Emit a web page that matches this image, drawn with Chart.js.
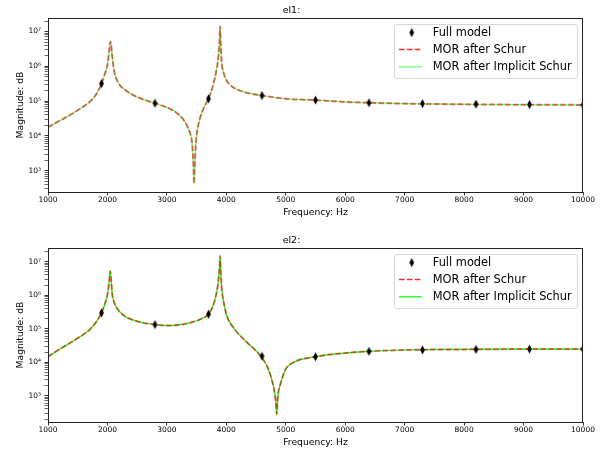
<!DOCTYPE html>
<html>
<head>
<meta charset="utf-8">
<script src="https://cdn.jsdelivr.net/npm/chart.js@4.4.1/dist/chart.umd.min.js"></script>
<style>
  body { margin: 0; background: #fff; }
  canvas { display: block; }
</style>
</head>
<body>
<canvas id="el1" width="611" height="225"></canvas>
<canvas id="el2" width="611" height="225"></canvas>
<script>
// Data (Hz, magnitude)
var fullFreq = [1900, 2800, 3700, 4600, 5500, 6400, 7300, 8200, 9100, 10000];
var full1 = [3.2e5, 8.7e4, 1.17e5, 1.45e5, 1.07e5, 9.0e4, 8.5e4, 8.2e4, 8.0e4, 7.8e4];
var full2 = [2.95e5, 1.32e5, 2.7e5, 1.5e4, 1.45e4, 2.1e4, 2.3e4, 2.4e4, 2.45e4, 2.45e4];

var freq1 = [1000, 1200, 1400, 1600, 1700, 1800, 1900, 1950, 2000, 2030, 2048, 2060, 2080, 2100, 2130,
  2200, 2300, 2400, 2600, 2800, 3000, 3150, 3250, 3330, 3390, 3420, 3440, 3450, 3457, 3465, 3475,
  3490, 3530, 3610, 3700, 3780, 3850, 3870, 3885, 3895, 3905, 3915, 3925, 3950, 3980, 4090, 4290,
  4600, 5000, 5500, 6000, 6500, 7000, 8000, 9000, 10000];
var mor1 = [1.78e4, 2.75e4, 4.27e4, 7.1e4, 9.5e4, 1.48e5, 3.16e5, 5.6e5, 1.12e6, 2.8e6, 5.2e6, 4.4e6, 2.0e6, 1.0e6, 5.6e5,
  3.0e5, 2.1e5, 1.6e5, 1.12e5, 8.7e4, 6.6e4, 4.8e4, 3.4e4, 2.1e4, 1.2e4, 7.1e3, 2.5e3, 1.0e3, 420, 1.0e3, 2.5e3,
  7.1e3, 2.1e4, 5.8e4, 1.17e5, 3.0e5, 1.12e6, 2.2e6, 5.0e6, 1.4e7, 5.0e6, 2.0e6, 1.12e6, 7.1e5, 4.7e5, 2.7e5, 1.86e5,
  1.45e5, 1.17e5, 1.07e5, 9.5e4, 8.9e4, 8.5e4, 8.1e4, 7.9e4, 7.8e4];

var freq2 = [1000, 1200, 1400, 1600, 1700, 1800, 1900, 1950, 2000, 2030, 2047, 2060, 2083, 2110, 2145,
  2270, 2500, 2800, 3050, 3330, 3450, 3560, 3700, 3780, 3850, 3870, 3885, 3897, 3905, 3918, 3935,
  3960, 4005, 4150, 4340, 4580, 4700, 4790, 4820, 4835, 4848, 4860, 4875, 4903, 4990, 5130, 5500,
  5900, 6400, 7000, 8000, 9000, 10000];
var mor2 = [1.45e4, 2.45e4, 4.0e4, 6.8e4, 9.3e4, 1.48e5, 2.95e5, 5.0e5, 1.05e6, 2.6e6, 5.2e6, 3.2e6, 1.0e6, 6.3e5, 4.5e5,
  2.5e5, 1.66e5, 1.32e5, 1.23e5, 1.41e5, 1.6e5, 1.9e5, 2.7e5, 5.0e5, 1.6e6, 3.2e6, 6.3e6, 1.48e7, 5.6e6, 2.0e6, 1.0e6,
  5.6e5, 2.5e5, 9.1e4, 4.0e4, 1.5e4, 6.6e3, 2.0e3, 1.0e3, 560, 280, 630, 1.26e3, 2.0e3, 5.8e3, 9.8e3, 1.45e4,
  1.8e4, 2.1e4, 2.3e4, 2.4e4, 2.45e4, 2.45e4];

// Ticks
var xTicks = [1000, 2000, 3000, 4000, 5000, 6000, 7000, 8000, 9000, 10000];
var yPowers = [2, 3, 4, 5, 6, 7];
var supers = {2: '\u00b2', 3: '\u00b3', 4: '\u2074', 5: '\u2075', 6: '\u2076', 7: '\u2077'};
var seriesNames = ['Full model', 'MOR after Schur', 'MOR after Implicit Schur'];

var FONT = 'DejaVu Sans';

function pts(xs, ys) {
  return xs.map(function (x, i) { return {x: x, y: ys[i]}; });
}

// thin diamond marker
var diamond = document.createElement('canvas');
diamond.width = 7;
diamond.height = 10;
var dc = diamond.getContext('2d');
dc.beginPath();
dc.moveTo(3.5, 0.6);
dc.lineTo(5.9, 5);
dc.lineTo(3.5, 9.4);
dc.lineTo(1.1, 5);
dc.closePath();
dc.fillStyle = '#000';
dc.fill();

var RED = 'rgba(230,0,0,0.55)';

//Spines + legend inside the axes
var mplFrame = {
  id: 'mplFrame',
  afterDraw: function (chart) {
    var ctx = chart.ctx, a = chart.chartArea;
    ctx.save();
    ctx.strokeStyle = '#222';
    ctx.lineWidth = 1;
    ctx.strokeRect(Math.round(a.left) + 0.5, Math.round(a.top) + 0.5,
      Math.round(a.right - a.left) - 1, Math.round(a.bottom - a.top));

    var w = 183, h = 54;
    var x0 = Math.round(a.right) - 6 - w, y0 = Math.round(a.top) + 6;
    ctx.beginPath();
    ctx.roundRect(x0 + 0.5, y0 + 0.5, w, h, 2.5);
    ctx.fillStyle = 'rgba(255,255,255,0.8)';
    ctx.fill();
    ctx.strokeStyle = '#d6d6d6';
    ctx.stroke();

    var rows = [y0 + 8.6, y0 + 25.5, y0 + 42.8];
    ctx.drawImage(diamond, x0 + 17.7 - 3.5, rows[0] - 5);

    ctx.setLineDash([5.5, 2.4]);
    ctx.strokeStyle = 'rgba(255,0,0,0.85)';
    ctx.lineWidth = 1.5;
    ctx.beginPath();
    ctx.moveTo(x0 + 5, rows[1]);
    ctx.lineTo(x0 + 28, rows[1]);
    ctx.stroke();

    ctx.setLineDash([]);
    ctx.strokeStyle = chart.options.plugins.mplFrame.green;
    ctx.lineWidth = 1.2;
    ctx.beginPath();
    ctx.moveTo(x0 + 5, rows[2]);
    ctx.lineTo(x0 + 28, rows[2]);
    ctx.stroke();

    ctx.fillStyle = '#000';
    ctx.font = '11.4px "' + FONT + '"';
    ctx.textBaseline = 'middle';
    for (var i = 0; i < 3; i++) {
      ctx.fillText(seriesNames[i], x0 + 38.7, rows[i] + 0.5);
    }
    ctx.restore();
  }
};

function makeChart(id, title, freq, mor, full, yMin, yMax, o) {
  var yTicks = [];
  yPowers.forEach(function (p) {
    for (var m = 1; m <= 9; m++) {
      var v = m * Math.pow(10, p);
      if (v >= yMin && v <= yMax) yTicks.push(v);
    }
  });

  return new Chart(document.getElementById(id), {
    type: 'line',
    data: {
      datasets: [{
        label: seriesNames[0],
        data: pts(fullFreq, full),
        showLine: false,
        pointStyle: diamond,
        pointRadius: 4,
        order: 0
      }, {
        label: seriesNames[1],
        data: pts(freq, mor),
        borderColor: RED,
        borderWidth: 2,
        borderDash: [5.5, 2.4],
        pointRadius: 0,
        cubicInterpolationMode: 'monotone',
        order: 1
      }, {
        label: seriesNames[2],
        data: pts(freq, mor),
        borderColor: o.green,
        borderWidth: 1.2,
        pointRadius: 0,
        cubicInterpolationMode: 'monotone',
        order: 2
      }]
    },
    options: {
      responsive: false,
      animation: false,
      devicePixelRatio: 1,
      layout: {padding: {left: 0, right: 28, top: 0, bottom: 0}},
      plugins: {
        legend: {display: false},
        tooltip: {enabled: false},
        title: {
          display: true,
          text: title,
          color: '#000',
          font: {family: FONT, size: 9.5, weight: 'normal'},
          padding: o.titlePad
        },
        mplFrame: {green: o.green}
      },
      scales: {
        x: {
          type: 'linear',
          min: 1000,
          max: 10000,
          afterFit: function (s) { s.height = o.xHeight; },
          afterBuildTicks: function (s) { s.ticks = xTicks.map(function (v) { return {value: v}; }); },
          border: {display: false},
          grid: {drawOnChartArea: false, tickLength: 3.5, tickColor: '#000', tickWidth: 0.8},
          ticks: {
            color: '#000',
            font: {family: FONT, size: 7.5},
            padding: 0.5,
            maxRotation: 0,
            autoSkip: false,
            callback: function (v) { return String(v); }
          },
          title: {
            display: true,
            text: 'Frequency: Hz',
            color: '#000',
            font: {family: FONT, size: 9.2},
            padding: {top: 0, bottom: o.xTitleBottom}
          }
        },
        y: {
          type: 'logarithmic',
          min: yMin,
          max: yMax,
          afterFit: function (s) { s.width = 48; },
          afterBuildTicks: function (s) { s.ticks = yTicks.map(function (v) { return {value: v}; }); },
          border: {display: false},
          grid: {
            drawOnChartArea: false,
            tickLength: 3.5,
            tickColor: '#000',
            tickWidth: function (c) {
              var v = c.tick ? c.tick.value : 0;
              var p = Math.round(Math.log10(v));
              return Math.abs(v - Math.pow(10, p)) < 1e-6 * v ? 0.8 : 0.6;
            }
          },
          ticks: {
            color: '#000',
            font: {family: FONT, size: 7.5},
            padding: 3.5,
            autoSkip: false,
            callback: function (v) {
              var p = Math.round(Math.log10(v));
              if (Math.abs(v - Math.pow(10, p)) < 1e-6 * v) return '10' + supers[p];
              return '';
            }
          },
          title: {
            display: true,
            text: 'Magnitude: dB',
            color: '#000',
            font: {family: FONT, size: 9.2},
            padding: {top: 15, bottom: 0}
          }
        }
      }
    },
    plugins: [mplFrame]
  });
}

//Chart el1
makeChart('el1', 'el1:', freq1, mor1, full1, 245, 2.45e7,
  {green: 'rgba(0,255,0,0.6)', titlePad: {top: 4.8, bottom: 1.8}, xHeight: 33, xTitleBottom: 6.5});

//Chart el2
makeChart('el2', 'el2:', freq2, mor2, full2, 163, 2.55e7,
  {green: '#00ff00', titlePad: {top: 10.3, bottom: 1.3}, xHeight: 28, xTitleBottom: 1.5});
</script>
</body>
</html>
